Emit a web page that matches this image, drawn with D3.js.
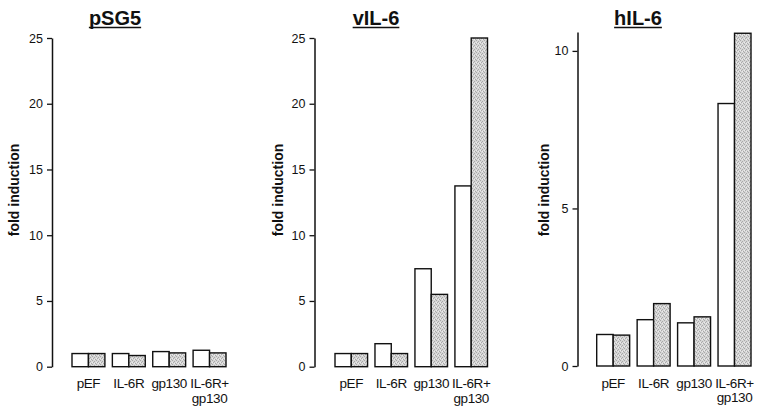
<!DOCTYPE html>
<html>
<head>
<meta charset="utf-8">
<script src="https://cdn.jsdelivr.net/npm/d3@7"></script>
<style>
  body { margin: 0; background: #fff; }
  text { font-family: "Liberation Sans", Arial, sans-serif; fill: #111; }
</style>
</head>
<body>
<div id="chart"></div>
<script>
// Fold induction, three panels (pSG5 / vIL-6 / hIL-6)
const categories = ["pEF", "IL-6R", "gp130", "IL-6R+|gp130"];
const series = ["open", "shaded"];

const pSG5Open = [1.0, 1.0, 1.15, 1.25];
const pSG5Shaded = [1.0, 0.85, 1.05, 1.05];
const vIL6Open = [1.0, 1.75, 7.45, 13.75];
const vIL6Shaded = [1.0, 1.0, 5.5, 25.0];
const hIL6Open = [1.0, 1.47, 1.37, 8.33];
const hIL6Shaded = [0.98, 1.98, 1.56, 10.56];

const ticks25 = [0, 5, 10, 15, 20, 25];
const ticks10 = [0, 5, 10];

(function() {
    const W = 767, H = 412;
    const svg = d3.select("#chart").append("svg")
        .attr("width", W).attr("height", H);

    // stippled grey fill
    const pat = svg.append("defs").append("pattern")
        .attr("id", "stip").attr("patternUnits", "userSpaceOnUse")
        .attr("width", 4).attr("height", 4);
    pat.append("rect").attr("width", 4).attr("height", 4).attr("fill", "#d6d6d6");
    [[0, 0], [2, 1], [1, 2], [3, 3]].forEach(([a, b]) => {
        pat.append("rect").attr("x", a).attr("y", b).attr("width", 1).attr("height", 1).attr("fill", "#a9a9a9");
    });
    [[2, 3], [0, 2]].forEach(([a, b]) => {
        pat.append("rect").attr("x", a).attr("y", b).attr("width", 1).attr("height", 1).attr("fill", "#ececec");
    });

    const panels = [
        {title: "pSG5", open: pSG5Open, shaded: pSG5Shaded, ticks: ticks25, max: 25,
         axisX: 52, y0: 366.7, y1: 38, band: [72, 226], titleX: 115, labelX: 14},
        {title: "vIL-6", open: vIL6Open, shaded: vIL6Shaded, ticks: ticks25, max: 25,
         axisX: 314.5, y0: 366.7, y1: 38, band: [335, 487.5], titleX: 376, labelX: 278},
        {title: "hIL-6", open: hIL6Open, shaded: hIL6Shaded, ticks: ticks10, max: 10.6,
         axisX: 577.5, y0: 366, y1: 32, band: [596.7, 751], titleX: 638, labelX: 544}
    ];

    panels.forEach(p => {
        const g = svg.append("g");

        const x = d3.scaleBand()
            .domain(categories)
            .range(p.band)
            .paddingInner(0.185)
            .paddingOuter(0);

        const xs = d3.scaleBand()
            .domain(series)
            .range([0, x.bandwidth()]);

        const y = d3.scaleLinear()
            .domain([0, p.max])
            .range([p.y0, p.y1]);

        // Y axis
        const ax = g.append("g")
            .attr("transform", `translate(${p.axisX},0)`)
            .call(d3.axisLeft(y).tickValues(p.ticks).tickSize(5).tickPadding(4).tickSizeOuter(0));
        ax.select(".domain").attr("stroke", "#111").attr("stroke-width", 1.5);
        ax.selectAll(".tick line").attr("stroke", "#111").attr("stroke-width", 1.3);
        ax.selectAll(".tick text")
            .attr("font-size", 12.5)
            .attr("font-family", "'Liberation Sans', Arial, sans-serif")
            .attr("fill", "#222");

        // Y label
        g.append("text")
            .attr("transform", `translate(${p.labelX},${190}) rotate(-90)`)
            .attr("text-anchor", "middle")
            .attr("dy", "0.35em")
            .attr("font-size", 14)
            .attr("font-weight", "bold")
            .text("fold induction");

        // Title
        const t = g.append("text")
            .attr("x", p.titleX)
            .attr("y", 25)
            .attr("text-anchor", "middle")
            .attr("font-size", 20)
            .attr("font-weight", "bold")
            .text(p.title);
        const tw = t.node().getComputedTextLength();
        g.append("line")
            .attr("x1", p.titleX - tw / 2).attr("x2", p.titleX + tw / 2)
            .attr("y1", 27.5).attr("y2", 27.5)
            .attr("stroke", "#111").attr("stroke-width", 1.6);

        // Bars
        const rows = [];
        categories.forEach((c, i) => {
            rows.push({cat: c, s: "open", v: p.open[i]});
            rows.push({cat: c, s: "shaded", v: p.shaded[i]});
        });
        g.selectAll("rect.bar")
            .data(rows)
            .enter()
            .append("rect")
            .attr("class", "bar")
            .attr("x", d => x(d.cat) + xs(d.s))
            .attr("y", d => y(d.v))
            .attr("width", xs.bandwidth())
            .attr("height", d => y(0) - y(d.v))
            .attr("fill", d => d.s === "open" ? "#fff" : "url(#stip)")
            .attr("stroke", "#111")
            .attr("stroke-width", 1.4);

        // Category labels
        categories.forEach(c => {
            const lines = c.split("|");
            const lt = g.append("text")
                .attr("x", x(c) + x.bandwidth() / 2)
                .attr("y", p.y0 + 21.5)
                .attr("text-anchor", "middle")
                .attr("font-size", 13.5)
                .attr("letter-spacing", -0.4);
            lines.forEach((l, k) => {
                lt.append("tspan")
                    .attr("x", x(c) + x.bandwidth() / 2)
                    .attr("dy", k === 0 ? 0 : 14.5)
                    .text(l);
            });
        });
    });
})();
</script>
</body>
</html>
